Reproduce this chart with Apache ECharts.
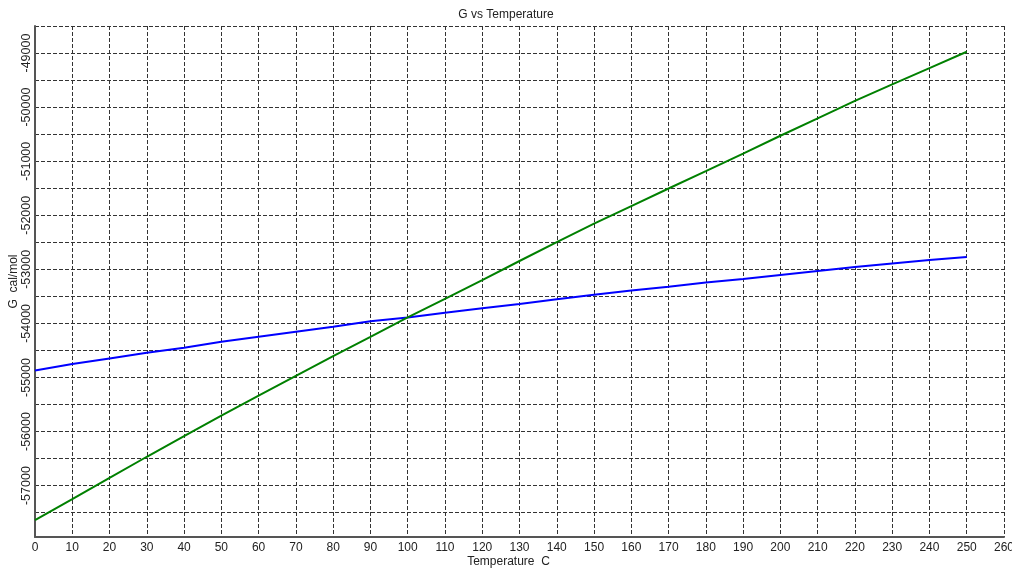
<!DOCTYPE html>
<html>
<head>
<meta charset="utf-8">
<script src="https://cdn.jsdelivr.net/npm/echarts@6/dist/echarts.min.js"></script>
<style>
  html,body{margin:0;padding:0;background:#fff;}
  #chart{width:1012px;height:568px;}
</style>
</head>
<body>
<div id="chart"></div>
<script>
// temperatures, C
const temps = [0,10,20,30,40,50,60,70,80,90,100,110,120,130,140,150,160,170,180,190,200,210,220,230,240,250];
// G, cal/mol
const blueG = [-54870,-54752,-54648,-54543,-54450,-54340,-54246,-54154,-54061,-53960,-53892,-53802,-53720,-53640,-53555,-53470,-53390,-53322,-53245,-53180,-53106,-53032,-52958,-52890,-52828,-52773];
const greenG = [-57636,-57249,-56855,-56466,-56083,-55705,-55335,-54969,-54604,-54250,-53890,-53545,-53198,-52846,-52495,-52155,-51830,-51505,-51185,-50860,-50530,-50210,-49885,-49580,-49280,-48976];

const yGridValues = [-57500,-57000,-56500,-56000,-55500,-55000,-54500,-54000,-53500,-53000,-52500,-52000,-51500,-51000,-50500,-50000,-49500,-49000,-48500];
const yLabelValues = [-57000,-56000,-55000,-54000,-53000,-52000,-51000,-50000,-49000];

(function(){
  const font = 'Liberation Sans, Arial, sans-serif';
  const pairs = (xs, ys)=>xs.map((x,i)=>[x, ys[i]]);
  const grid = {type:'dashed', color:'#333', width:1};

  const chart = echarts.init(document.getElementById('chart'), null, {renderer:'canvas'});
  chart.setOption({
    animation:false,
    backgroundColor:'#fff',
    title:{text:'G vs Temperature', left:'center', top:4,
      textStyle:{fontFamily:font, fontSize:12, fontWeight:'normal', color:'#222'}},
    grid:{left:35, right:8, top:26, bottom:31, containLabel:false, outerBoundsMode:'none'},
    xAxis:{
      type:'value', min:0, max:260, interval:10,
      name:'Temperature  C', nameLocation:'middle', nameGap:19, nameMoveOverlap:false,
      nameTextStyle:{fontFamily:font, fontSize:12, color:'#222', padding:[0,22,0,0]},
      axisLine:{show:true, lineStyle:{color:'#555', width:2}},
      axisTick:{show:false},
      axisLabel:{fontFamily:font, fontSize:12, color:'#222', margin:5, showMaxLabel:true, showMinLabel:true,
        formatter:v=>String(v)},
      splitLine:{show:true, lineStyle:grid}
    },
    yAxis:{
      type:'value', min:-57950, max:-48500,
      name:'G  cal/mol', nameLocation:'middle', nameGap:15, nameMoveOverlap:false,
      nameTextStyle:{fontFamily:font, fontSize:12, color:'#222'},
      axisLine:{show:true, lineStyle:{color:'#555', width:2}},
      axisTick:{show:false, customValues:yGridValues},
      axisLabel:{customValues:yLabelValues, rotate:90, fontFamily:font, fontSize:12.5, color:'#222', margin:2,
        formatter:v=>String(v)},
      splitLine:{show:true, lineStyle:grid}
    },
    series:[
      {type:'line', name:'blue', data:pairs(temps, blueG), showSymbol:false, lineStyle:{color:'#0000ff', width:2}},
      {type:'line', name:'green', data:pairs(temps, greenG), showSymbol:false, lineStyle:{color:'#008000', width:2}}
    ]
  });
})();
</script>
</body>
</html>
